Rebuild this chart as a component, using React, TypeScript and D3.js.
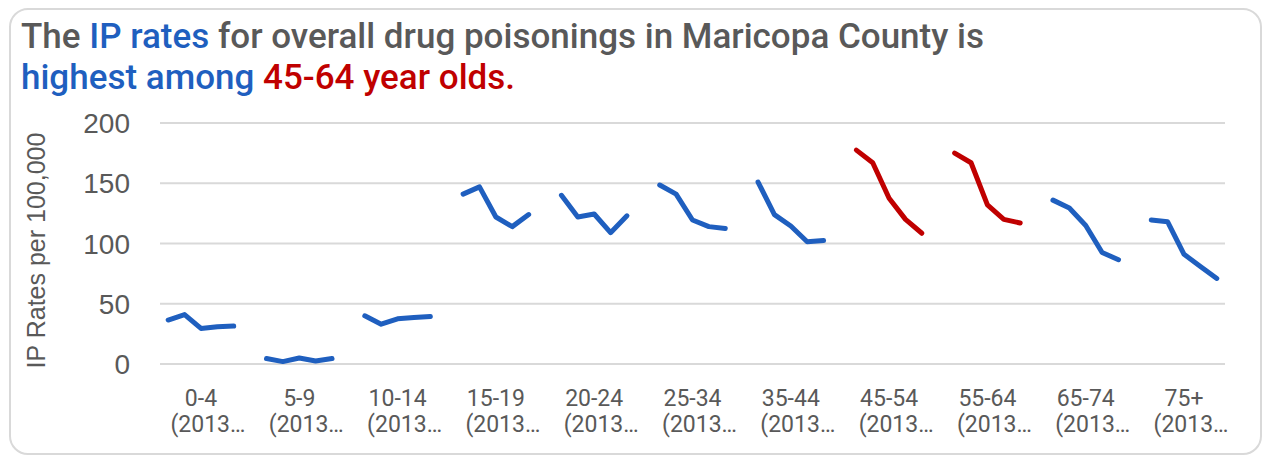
import React from "react";
import * as d3 from "d3";

const categories = ["0-4", "5-9", "10-14", "15-19", "20-24", "25-34", "35-44", "45-54", "55-64", "65-74", "75+"];
const yearRangeLabel = "(2013…";
const years = ["2013", "2014", "2015", "2016", "2017"];
const highlighted = ["45-54", "55-64"];
const rates0_4 = [36.5, 41, 29.5, 31, 31.5];
const rates5_9 = [4.5, 2, 5, 2.5, 4.5];
const rates10_14 = [40, 33, 37.5, 38.5, 39.5];
const rates15_19 = [141, 147, 122, 114, 124];
const rates20_24 = [140, 122, 124.5, 109, 123];
const rates25_34 = [148.5, 141, 119.5, 114, 112.5];
const rates35_44 = [151, 124, 114.5, 101.5, 102.5];
const rates45_54 = [177.5, 167, 137.5, 120, 108.5];
const rates55_64 = [175, 167, 132, 120, 117];
const rates65_74 = [136, 129.5, 115, 92.5, 86.5];
const rates75p = [119.5, 118, 91, 81, 71];
const allRates = [rates0_4, rates5_9, rates10_14, rates15_19, rates20_24, rates25_34, rates35_44, rates45_54, rates55_64, rates65_74, rates75p];
const yTicks = [0, 50, 100, 150, 200];

const W = 1264;
const H = 456;
const plotLeft = 160;
const plotRight = 1225;
const plotTop = 123;
const plotBottom = 364;
const BLUE = "#1F5FBF";
const RED = "#C00000";
const GRAY = "#595959";

export default function App() {
  const slotsPerGroup = years.length + 1;
  const nSlots = categories.length * slotsPerGroup - 1;
  const x = d3.scalePoint<number>().domain(d3.range(nSlots)).range([plotLeft, plotRight]).padding(0.5);
  const y = d3.scaleLinear().domain([0, 200]).range([plotBottom, plotTop]);
  const line = d3.line<[number, number]>().x((d) => d[0]).y((d) => d[1]);

  return (
    <svg width={W} height={H} style={{ position: "absolute", left: 0, top: 0, background: "#fff" }}>
      <rect x={10} y={9} width={1251} height={445} rx={18} ry={18} fill="#fff" stroke="#d9d9d9" strokeWidth={2} />
      <text x={21} y={48} fontFamily="Roboto, 'Liberation Sans', sans-serif" fontWeight={500} fontSize={35} fill={GRAY}>
        <tspan>The </tspan>
        <tspan fill={BLUE}>IP rates</tspan>
        <tspan> for overall drug poisonings in Maricopa County is</tspan>
      </text>
      <text x={21} y={89} fontFamily="Roboto, 'Liberation Sans', sans-serif" fontWeight={500} fontSize={35} fill={BLUE}>
        <tspan>highest among </tspan>
        <tspan fill={RED}>45-64 year olds.</tspan>
      </text>
      {yTicks.map((t) => (
        <g key={t}>
          <line x1={plotLeft} x2={plotRight} y1={y(t)} y2={y(t)} stroke="#d9d9d9" strokeWidth={2} />
          <text x={130} y={y(t)} dy="0.36em" textAnchor="end" fontFamily="'Liberation Sans', Arial, sans-serif" fontSize={28} fill={GRAY}>
            {t}
          </text>
        </g>
      ))}
      <text
        transform={`translate(45, ${(plotTop + plotBottom) / 2 + 7}) rotate(-90)`}
        textAnchor="middle"
        fontFamily="'Liberation Sans', Arial, sans-serif"
        fontSize={25}
        fill={GRAY}
      >
        IP Rates per 100,000
      </text>
      {categories.map((c, g) => {
        const pts: [number, number][] = allRates[g].map((v, j) => [x(g * slotsPerGroup + j) as number, y(v)]);
        const cx = x(g * slotsPerGroup + 2) as number;
        return (
          <g key={c}>
            <path d={line(pts) ?? ""} fill="none" stroke={highlighted.includes(c) ? RED : BLUE} strokeWidth={5} strokeLinecap="round" strokeLinejoin="round" />
            <text x={cx} y={406} textAnchor="middle" fontFamily="Roboto, 'Liberation Sans', sans-serif" fontSize={23} fill={GRAY}>
              {c}
            </text>
            <text x={cx + 7} y={432} textAnchor="middle" fontFamily="Roboto, 'Liberation Sans', sans-serif" fontSize={23} fill={GRAY}>
              {yearRangeLabel}
            </text>
          </g>
        );
      })}
    </svg>
  );
}
